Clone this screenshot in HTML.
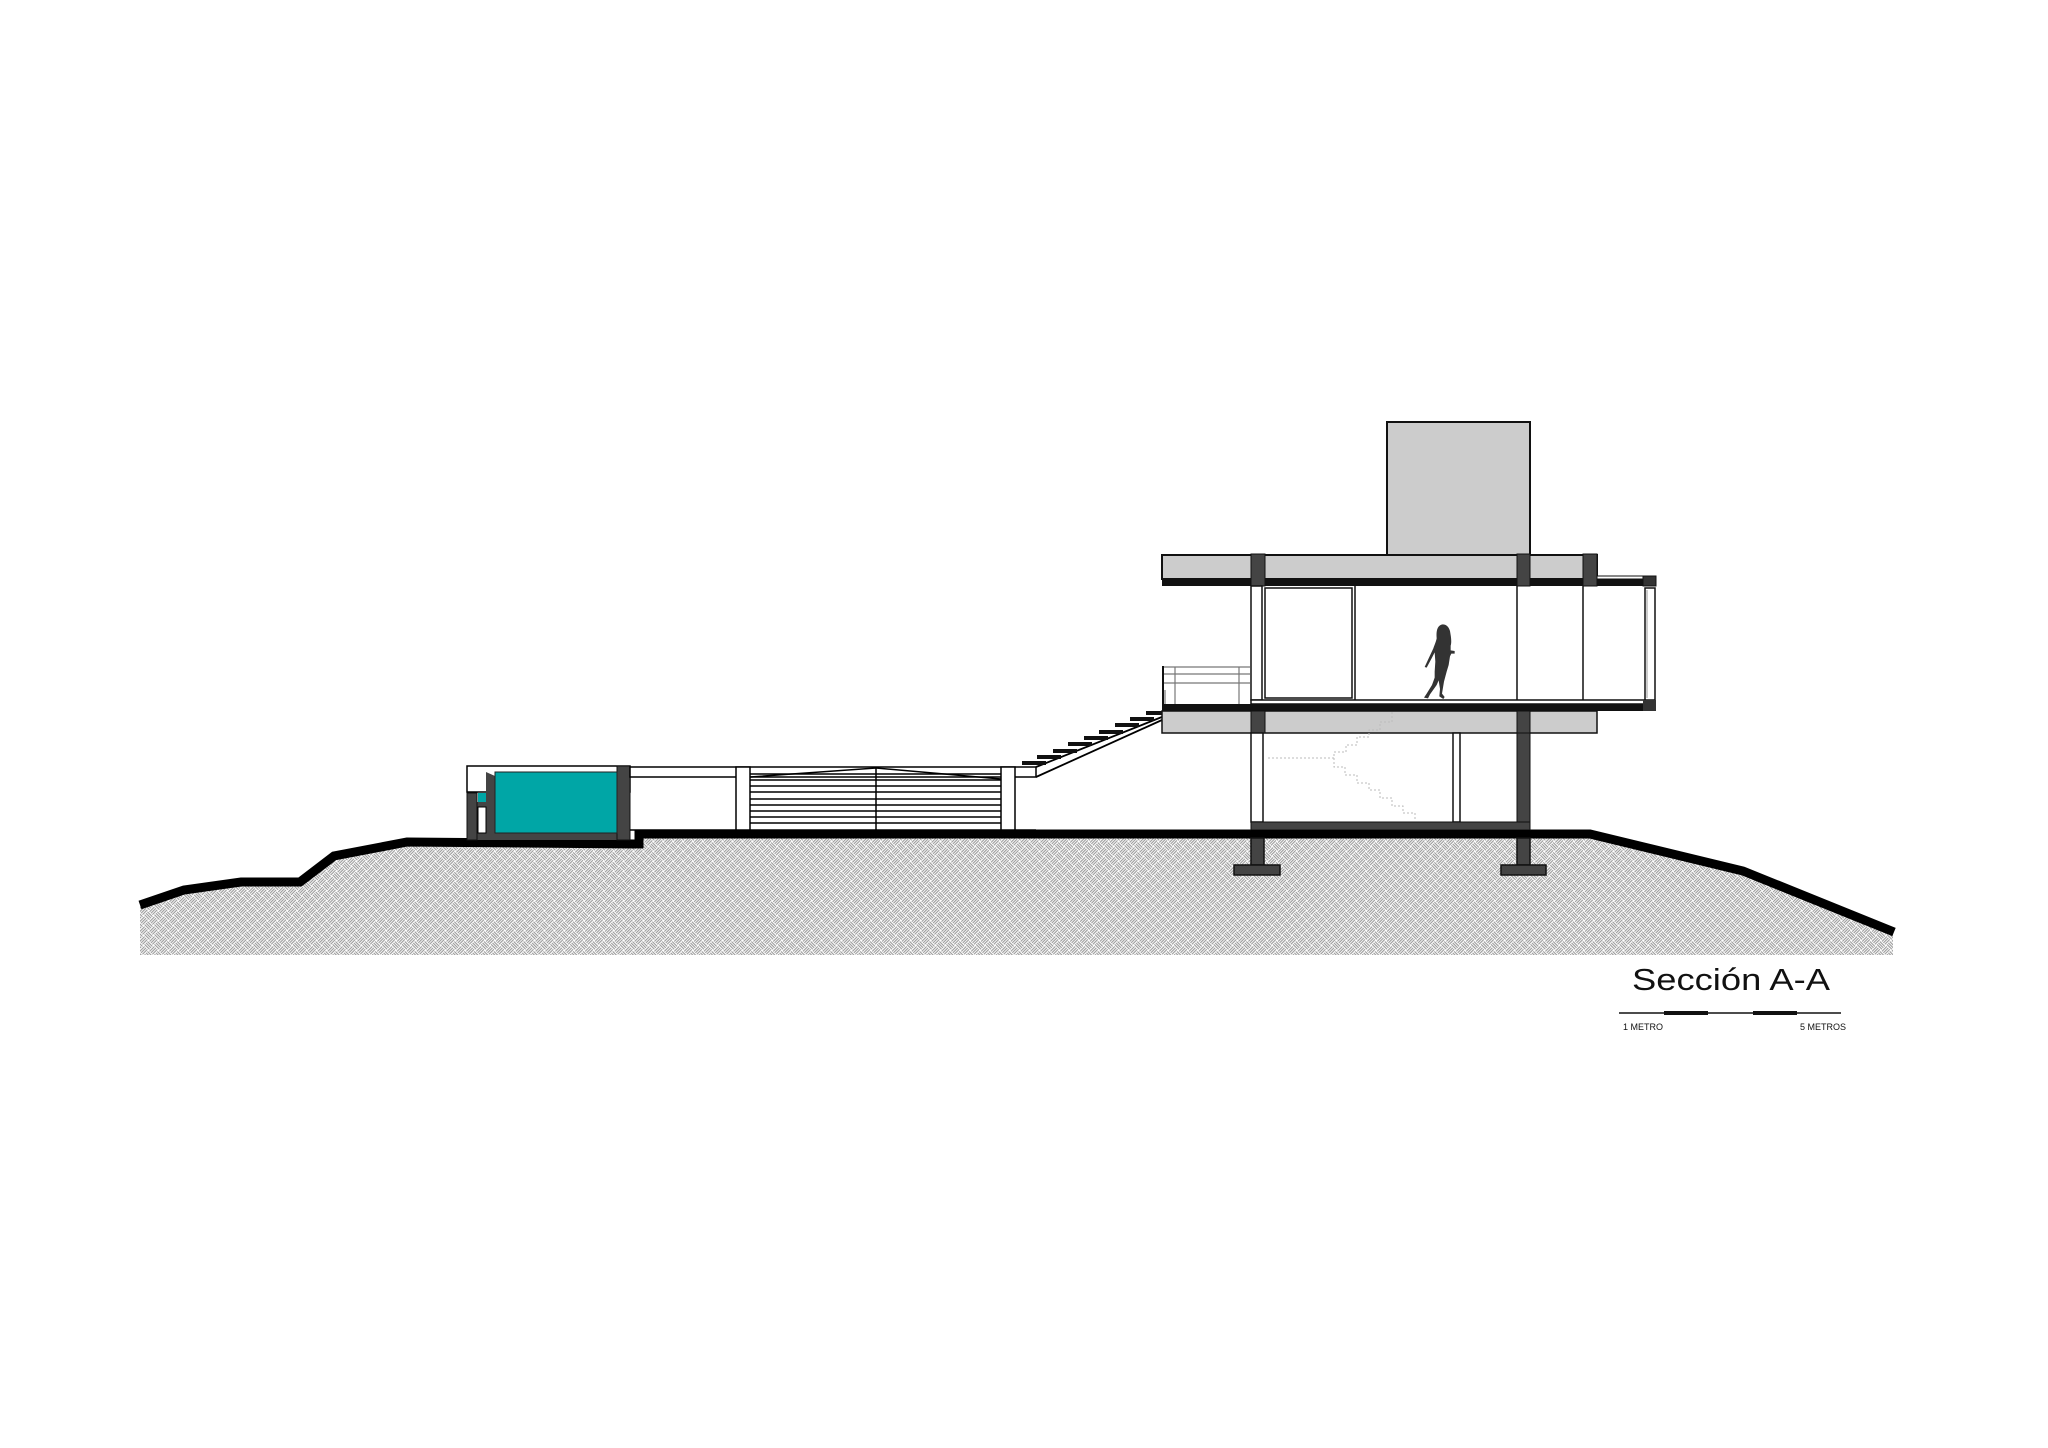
<!DOCTYPE html>
<html><head><meta charset="utf-8"><style>html,body{margin:0;padding:0;background:#fff}svg{display:block}</style></head>
<body>
<svg width="2048" height="1448" viewBox="0 0 2048 1448" xmlns="http://www.w3.org/2000/svg">
<defs>
<pattern id="bw" width="14" height="14" patternUnits="userSpaceOnUse" patternTransform="rotate(45)">
<rect width="14" height="14" fill="#fff"/>
<g stroke="#9a9a9a" stroke-width="1.1">
<line x1="0" y1="1.5" x2="7" y2="1.5"/><line x1="0" y1="3.5" x2="7" y2="3.5"/><line x1="0" y1="5.5" x2="7" y2="5.5"/>
<line x1="7" y1="8.5" x2="14" y2="8.5"/><line x1="7" y1="10.5" x2="14" y2="10.5"/><line x1="7" y1="12.5" x2="14" y2="12.5"/>
<line x1="8.5" y1="0" x2="8.5" y2="7"/><line x1="10.5" y1="0" x2="10.5" y2="7"/><line x1="12.5" y1="0" x2="12.5" y2="7"/>
<line x1="1.5" y1="7" x2="1.5" y2="14"/><line x1="3.5" y1="7" x2="3.5" y2="14"/><line x1="5.5" y1="7" x2="5.5" y2="14"/>
</g></pattern>
</defs>

<!-- ground hatch -->
<polygon fill="url(#bw)" points="140,903 184,889 241,881 300,881 334,855 407,841 639,844 639,834 1590,834 1743,871 1893,932 1893,955 140,955"/>
<!-- ground line -->
<polyline fill="none" stroke="#000" stroke-width="9" stroke-linejoin="miter" points="140,905 184,890 241,882 300,882 334,856 407,842 643,844"/>
<polyline fill="none" stroke="#000" stroke-width="9" points="639,848 639,834 1590,834 1743,871 1894,932"/>

<!-- pool -->
<rect x="467" y="766" width="163" height="26" fill="#fff" stroke="#000" stroke-width="1.5"/>
<rect x="467" y="793" width="10" height="47" fill="#444"/>
<rect x="467" y="833" width="163" height="7" fill="#444"/>
<rect x="617" y="766" width="13" height="74" fill="#444" stroke="#111" stroke-width="1"/>
<rect x="477" y="802" width="9" height="5" fill="#444"/>
<polygon points="486,772 495,776 495,833 486,833" fill="#444"/>
<rect x="495" y="772" width="122" height="61" fill="#00A6A6" stroke="#222" stroke-width="1"/>
<rect x="478" y="793" width="8" height="9" fill="#00A6A6"/>
<rect x="478" y="807" width="8" height="26" fill="#fff" stroke="#000" stroke-width="1"/>
<rect x="467" y="793" width="10" height="47" fill="none" stroke="#111" stroke-width="1"/>

<!-- wall band -->
<rect x="630" y="767" width="406" height="10" fill="#fff" stroke="#000" stroke-width="1.5"/>
<line x1="630" y1="830" x2="1036" y2="830" stroke="#000" stroke-width="1.5"/>
<!-- gate -->
<rect x="736" y="767" width="14" height="63" fill="#fff" stroke="#000" stroke-width="1.5"/>
<rect x="1001" y="767" width="14" height="63" fill="#fff" stroke="#000" stroke-width="1.5"/>
<g stroke="#000" stroke-width="1.5">
<line x1="750" y1="774" x2="1001" y2="774"/><line x1="750" y1="780" x2="1001" y2="780"/><line x1="750" y1="786" x2="1001" y2="786"/>
<line x1="750" y1="792" x2="1001" y2="792"/><line x1="750" y1="799" x2="1001" y2="799"/><line x1="750" y1="805" x2="1001" y2="805"/>
<line x1="750" y1="811" x2="1001" y2="811"/><line x1="750" y1="817" x2="1001" y2="817"/><line x1="750" y1="823" x2="1001" y2="823"/>
<line x1="876" y1="767" x2="876" y2="830"/>
<polyline fill="none" points="750,777 876,768 1001,779"/>
</g>
<!-- ramp -->
<g stroke="#000" stroke-width="1.8" fill="none">
<line x1="1036" y1="767" x2="1177" y2="711"/>
<line x1="1036" y1="777" x2="1162" y2="720"/>
<line x1="1162" y1="720" x2="1177" y2="720"/>
</g>
<g fill="#111">
<rect x="1022" y="761" width="24" height="4"/><rect x="1037" y="755" width="24" height="4"/><rect x="1053" y="749" width="24" height="4"/>
<rect x="1068" y="742" width="24" height="4"/><rect x="1084" y="736" width="24" height="4"/><rect x="1099" y="730" width="24" height="4"/>
<rect x="1115" y="723" width="24" height="4"/><rect x="1130" y="717" width="24" height="4"/><rect x="1146" y="711" width="20" height="4"/>
</g>

<!-- tower -->
<rect x="1387" y="422" width="143" height="133" fill="#ccc" stroke="#111" stroke-width="2"/>
<!-- roof slab -->
<rect x="1162" y="555" width="435" height="24" fill="#ccc" stroke="#111" stroke-width="2"/>
<rect x="1162" y="579" width="494" height="7" fill="#111"/>
<rect x="1597" y="576" width="46" height="3" fill="#fff" stroke="#111" stroke-width="1"/>
<rect x="1643" y="576" width="13" height="10" fill="#333" stroke="#111" stroke-width="1"/>
<g fill="#444" stroke="#111" stroke-width="1">
<rect x="1251" y="554" width="14" height="32"/><rect x="1517" y="554" width="13" height="32"/><rect x="1583" y="554" width="14" height="32"/>
</g>
<!-- upper floor -->
<g stroke="#111" stroke-width="1.5" fill="none">
<rect x="1251" y="586" width="11" height="114" fill="#fff"/>
<rect x="1265" y="588" width="87" height="110"/>
<line x1="1355" y1="586" x2="1355" y2="700"/>
<line x1="1517" y1="586" x2="1517" y2="700"/>
<line x1="1583" y1="586" x2="1583" y2="700"/>
<rect x="1645" y="588" width="10" height="112"/>
<rect x="1251" y="700" width="394" height="4" fill="#fff"/>
</g>
<line x1="1647" y1="590" x2="1647" y2="698" stroke="#999" stroke-width="1"/>
<rect x="1162" y="704" width="494" height="7" fill="#111"/>
<rect x="1643" y="700" width="13" height="11" fill="#333"/>
<!-- railing -->
<g stroke="#777" stroke-width="1.2" fill="none">
<line x1="1163" y1="667" x2="1250" y2="667"/><line x1="1163" y1="674" x2="1250" y2="674"/><line x1="1163" y1="683" x2="1250" y2="683"/>
<line x1="1175" y1="667" x2="1175" y2="704"/><line x1="1239" y1="667" x2="1239" y2="704"/><line x1="1165" y1="690" x2="1165" y2="704"/>
</g>
<line x1="1163" y1="666" x2="1163" y2="704" stroke="#111" stroke-width="2"/>
<!-- figure -->
<g transform="translate(1400,615) scale(0.3333)">
<path fill="#333" d="M128,28 C112,30 108,48 110,70 C108,80 104,88 100,100 L86,130 L74,156 L80,158 L96,128 L104,112 L106,140 L104,170 L104,188 L96,210 L80,236 L72,248 L84,250 L90,238 L110,210 L116,196 L120,222 L118,244 L130,252 L134,246 L126,236 L132,200 L140,170 L146,150 L150,124 L154,116 L164,116 L164,108 L152,106 L152,92 C156,80 152,60 150,48 C146,34 138,28 128,28 Z"/>
</g>
<!-- lower slab -->
<rect x="1162" y="711" width="435" height="22" fill="#ccc" stroke="#111" stroke-width="1.5"/>
<g fill="#444" stroke="#111" stroke-width="1">
<rect x="1251" y="711" width="14" height="22"/><rect x="1517" y="711" width="13" height="22"/>
</g>
<!-- lower floor -->
<g stroke="#111" stroke-width="1.5" fill="#fff">
<rect x="1251" y="733" width="12" height="89"/>
<rect x="1453" y="733" width="7" height="89"/>
</g>
<rect x="1517" y="733" width="13" height="89" fill="#444" stroke="#111" stroke-width="1"/>
<g fill="none" stroke="#bbb" stroke-width="1" stroke-dasharray="2,2">
<polyline points="1392,712 1392,722 1380,722 1380,730 1369,730 1369,737 1357,737 1357,745 1346,745 1346,752 1334,752 1334,758 1266,758"/>
<polyline points="1334,758 1334,767 1345,767 1345,775 1357,775 1357,783 1369,783 1369,790 1380,790 1380,798 1392,798 1392,806 1403,806 1403,813 1415,813 1415,820"/>
</g>
<rect x="1251" y="822" width="279" height="8" fill="#444" stroke="#111" stroke-width="1"/>
<rect x="1251" y="830" width="279" height="8" fill="#000"/>
<!-- footings -->
<g fill="#444" stroke="#111" stroke-width="1.5">
<rect x="1251" y="838" width="13" height="27"/><rect x="1517" y="838" width="13" height="27"/>
<rect x="1234" y="865" width="46" height="10"/><rect x="1501" y="865" width="45" height="10"/>
</g>

<!-- title & scale -->
<text x="1632" y="990" font-family="Liberation Sans, sans-serif" font-size="31" fill="#111" textLength="198" lengthAdjust="spacingAndGlyphs">Sección A-A</text>
<line x1="1619" y1="1013" x2="1841" y2="1013" stroke="#111" stroke-width="1.5"/>
<rect x="1664" y="1011" width="44" height="4" fill="#111"/>
<rect x="1753" y="1011" width="44" height="4" fill="#111"/>
<text x="1623" y="1030" font-family="Liberation Sans, sans-serif" font-size="9" fill="#111">1 METRO</text>
<text x="1800" y="1030" font-family="Liberation Sans, sans-serif" font-size="9" fill="#111">5 METROS</text>
</svg>
</body></html>
